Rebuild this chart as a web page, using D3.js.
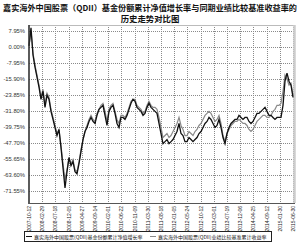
<!DOCTYPE html>
<html><head><meta charset="utf-8">
<script src="https://cdn.jsdelivr.net/npm/d3@7"></script>
<style>body{margin:0;background:#fff}svg{display:block}</style>
</head><body><svg id="c" width="300" height="244"></svg>
<script>
const titleLines = ["嘉实海外中国股票（QDII）基金份额累计净值增长率与同期业绩比较基准收益率的", "历史走势对比图"];
const seriesNames = ["嘉实海外中国股票(QDII)基金份额累计净值增长率", "嘉实海外中国股票(QDII)业绩比较基准累计收益率"];
const yTicks = [7.95, 0, -7.95, -15.90, -23.85, -31.80, -39.75, -47.70, -55.65, -63.60, -71.55];
const xLabels = ["2007-10-12","2008-02-29","2008-07-18","2008-12-05","2009-04-27","2009-09-14","2010-02-01","2010-06-22","2010-11-09","2011-03-30","2011-08-18","2012-01-05","2012-05-24","2012-10-12","2013-03-01","2013-07-19","2013-12-06","2014-04-25","2014-09-12","2015-01-30","2015-06-30"];
const fund = [0.5,9.5,-4,-10,-15,-20,-26,-22,-30,-24,-26,-32,-36,-40,-44,-41,-50,-60,-70,-62,-55,-59,-57,-62,-63,-58,-52,-46,-42,-40,-37,-35,-37,-38,-34,-31,-30,-29,-34,-39,-32,-30,-29,-33,-38,-40,-35,-35,-36,-34,-31,-28,-26,-27,-30,-31,-32,-34,-33,-30,-28,-30,-31,-32,-33,-38,-43,-48,-47,-46,-48,-47,-46,-44,-42,-38,-43,-44,-47,-47,-45,-46,-47,-46,-45,-43,-42,-40,-38,-37,-35,-36,-38,-40,-39,-36,-40,-45,-48,-43,-40,-38,-37,-36,-36,-34,-35,-36,-35,-35,-37,-38,-37,-35,-33,-33,-32,-31,-30,-32,-34,-34,-35,-36,-35,-35,-35,-29,-17,-13,-17,-19,-25];
const bench = [0.5,8,-3,-9,-14,-19,-25,-21,-29,-23,-25,-31,-35,-39,-43,-41,-49,-58,-66,-61,-55,-58,-56,-61,-62,-57,-51,-46,-42,-39,-36,-34,-36,-37,-33,-31,-29,-28,-32,-37,-31,-29,-28,-32,-36,-38,-34,-34,-35,-33,-30,-27,-26,-26,-29,-30,-31,-33,-32,-29,-27,-29,-30,-30,-31,-35,-40,-45,-44,-43,-45,-44,-42,-40,-38,-35,-39,-41,-44,-44,-42,-43,-44,-42,-41,-39,-38,-36,-34,-33,-32,-33,-35,-37,-36,-34,-38,-44,-47,-43,-41,-39,-38,-37,-37,-36,-37,-38,-38,-39,-41,-42,-41,-39,-37,-36,-35,-34,-34,-35,-35,-34,-32,-31,-29,-29,-28,-22,-14,-16,-19,-18,-24];

const svg = d3.select("#c");
const L = 29, R = 293, T = 25, B = 203;
const x = d3.scaleLinear().domain([0, fund.length - 1]).range([L, R]);
const xt = d3.scalePoint().domain(xLabels).range([L, R]);
const y = d3.scaleLinear().domain([-77.5, 10.9]).range([B, T]);

// title
svg.append("text").attr("x", 3).attr("y", 11)
  .attr("textLength", 294).attr("lengthAdjust", "spacingAndGlyphs")
  .attr("font-family", "Noto Sans CJK SC").attr("font-weight", "bold")
  .attr("font-size", 8).attr("fill", "#111").text(titleLines[0]);
svg.append("text").attr("x", 150).attr("y", 21.5).attr("text-anchor", "middle")
  .attr("font-family", "Noto Sans CJK SC").attr("font-weight", "bold")
  .attr("font-size", 8.4).attr("fill", "#111").text(titleLines[1]);

// grid
const g = svg.append("g");
g.selectAll("line.h").data(yTicks).join("line")
  .attr("x1", L).attr("x2", R).attr("y1", d => Math.round(y(d)) + 0.5).attr("y2", d => Math.round(y(d)) + 0.5)
  .attr("stroke", "#8a8a8a").attr("stroke-width", 1).attr("stroke-dasharray", "1,1");
g.selectAll("line.v").data(xLabels.slice(1)).join("line")
  .attr("x1", d => Math.round(xt(d)) + 0.5).attr("x2", d => Math.round(xt(d)) + 0.5).attr("y1", T).attr("y2", B)
  .attr("stroke", "#8a8a8a").attr("stroke-width", 1).attr("stroke-dasharray", "1,1");
// frame
svg.append("line").attr("x1", L).attr("x2", R + 2).attr("y1", T + 0.5).attr("y2", T + 0.5).attr("stroke", "#bbb");
svg.append("line").attr("x1", R + 1.5).attr("x2", R + 1.5).attr("y1", T).attr("y2", B).attr("stroke", "#ccc").attr("stroke-width", 2.5);

// y labels
svg.selectAll("text.yl").data(yTicks).join("text")
  .attr("x", 25).attr("y", d => y(d) + 2)
  .attr("text-anchor", "end").attr("font-family", "Liberation Sans").attr("font-size", 5.8).attr("fill", "#333")
  .text(d => d.toFixed(2) + "%");

// x labels
svg.selectAll("text.xl").data(xLabels).join("text")
  .attr("transform", d => `translate(${xt(d) + 2},${B + 3}) rotate(-90)`)
  .attr("text-anchor", "end").attr("font-family", "Liberation Sans").attr("font-size", 5).attr("fill", "#222")
  .text(d => d);

// lines
const line = d3.line().x((d, i) => x(i)).y(d => y(d));
svg.append("path").datum(bench).attr("d", line).attr("fill", "none").attr("stroke", "#8a8a8a").attr("stroke-width", 1.2);
svg.append("path").datum(fund).attr("d", line).attr("fill", "none").attr("stroke", "#111").attr("stroke-width", 1.3);

// axes
svg.append("line").attr("x1", L).attr("x2", L).attr("y1", T).attr("y2", B + 1).attr("stroke", "#333").attr("stroke-width", 1.6);
svg.append("line").attr("x1", L).attr("x2", R + 2).attr("y1", B + 0.5).attr("y2", B + 0.5).attr("stroke", "#555").attr("stroke-width", 1);

// legend
const lg = svg.append("g");
lg.append("rect").attr("x", 24.5).attr("y", 231.5).attr("width", 247).attr("height", 10).attr("fill", "#fff").attr("stroke", "#222");
const legX = [26, 150];
const legCol = ["#111", "#8a8a8a"];
seriesNames.forEach((n, i) => {
  lg.append("line").attr("x1", legX[i]).attr("x2", legX[i] + 6).attr("y1", 236.5).attr("y2", 236.5).attr("stroke", legCol[i]).attr("stroke-width", 1);
  lg.append("text").attr("x", legX[i] + 8).attr("y", 238.5).attr("font-family", "Noto Sans CJK SC").attr("font-size", 5).attr("fill", "#111").text(n);
});
</script></body></html>
